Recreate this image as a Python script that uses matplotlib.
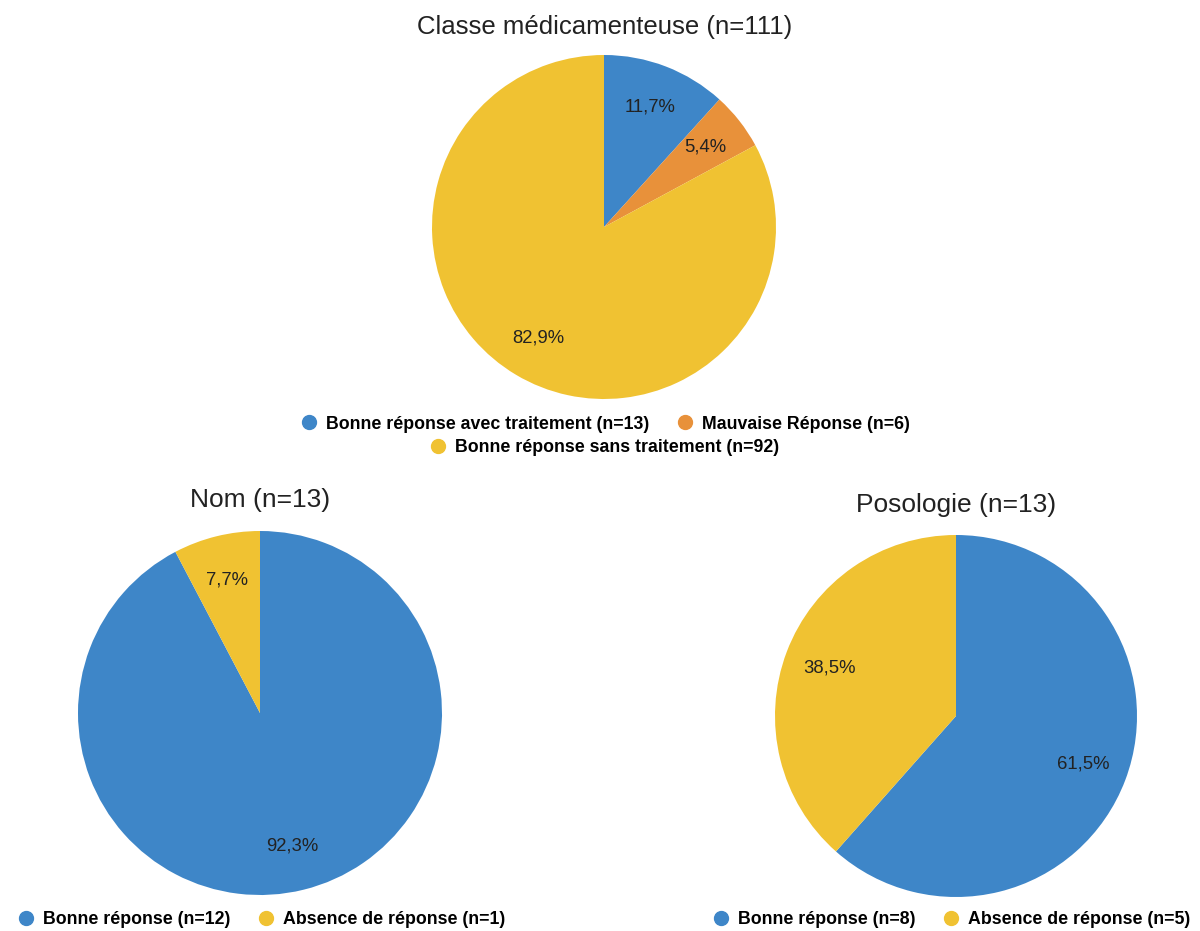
import matplotlib.pyplot as plt
from matplotlib.lines import Line2D

plt.rcParams['font.family'] = ['Liberation Sans', 'DejaVu Sans']

blue = "#3E86C8"
orange = "#E8913A"
yellow = "#F0C232"

# top chart
classe_labels = ["Bonne réponse avec traitement (n=13)", "Mauvaise Réponse (n=6)",
                 "Bonne réponse sans traitement (n=92)"]
classe_values = [13, 6, 92]
classe_colors = [blue, orange, yellow]

# bottom charts
nom_labels = ["Bonne réponse (n=12)", "Absence de réponse (n=1)"]
nom_values = [12, 1]
poso_labels = ["Bonne réponse (n=8)", "Absence de réponse (n=5)"]
poso_values = [8, 5]
two_colors = [blue, yellow]

W, H = 1200, 931
fig = plt.figure(figsize=(12, 9.31), dpi=100)


def pie_axes(cx, cy, r):
    ax = fig.add_axes([(cx - r) / W, (H - cy - r) / H, 2 * r / W, 2 * r / H])
    return ax


def fmt(p):
    return "{:.1f}%".format(p).replace(".", ",")


def draw_pie(ax, values, colors):
    ax.pie(values, colors=colors, startangle=90, counterclock=False,
           autopct=fmt, pctdistance=0.75, radius=1,
           wedgeprops=dict(linewidth=0),
           textprops=dict(fontsize=13.3, color="#222222"))
    ax.set_xlim(-1, 1)
    ax.set_ylim(-1, 1)
    ax.set_aspect("equal")
    ax.axis("off")


def handles(colors):
    return [Line2D([], [], marker="o", linestyle="", markersize=10,
                   markerfacecolor=c, markeredgecolor=c) for c in colors]


ax1 = pie_axes(604, 227, 172)
draw_pie(ax1, classe_values, classe_colors)
ax2 = pie_axes(260, 713, 182)
draw_pie(ax2, nom_values, two_colors)
ax3 = pie_axes(956, 716, 181)
draw_pie(ax3, poso_values, two_colors)

fig.text(605 / W, 1 - 27 / H, "Classe médicamenteuse (n=111)", fontsize=18.5,
         ha="center", va="center", color="#222222")
fig.text(260 / W, 1 - 500 / H, "Nom (n=13)", fontsize=19,
         ha="center", va="center", color="#222222")
fig.text(956 / W, 1 - 505 / H, "Posologie (n=13)", fontsize=19,
         ha="center", va="center", color="#222222")

leg_kw = dict(loc="center", frameon=False, handletextpad=0.45, columnspacing=1.5,
              prop=dict(weight="bold", size=12.8), handlelength=1.0)

h = handles(classe_colors)
fig.legend(h[:2], classe_labels[:2], ncol=2, bbox_to_anchor=(605 / W, 1 - 424 / H), **leg_kw)
fig.legend(h[2:], classe_labels[2:], ncol=1, bbox_to_anchor=(604 / W, 1 - 448 / H), **leg_kw)
fig.legend(handles(two_colors), nom_labels, ncol=2, bbox_to_anchor=(261 / W, 1 - 920 / H), **leg_kw)
fig.legend(handles(two_colors), poso_labels, ncol=2, bbox_to_anchor=(951 / W, 1 - 920 / H), **leg_kw)

fig.savefig("out.png", dpi=100)
